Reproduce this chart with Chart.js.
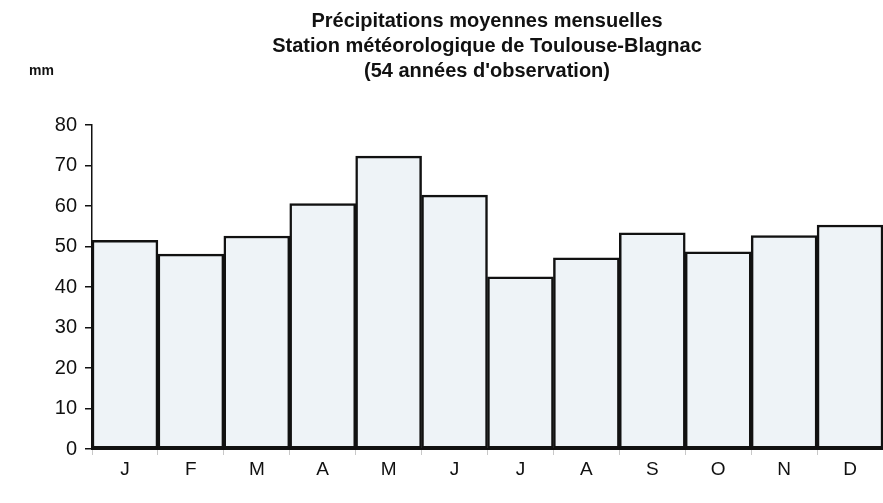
<!DOCTYPE html>
<html>
<head>
<meta charset="utf-8">
<script src="https://cdn.jsdelivr.net/npm/chart.js@4"></script>
<style>
  html, body { margin: 0; padding: 0; background: #fff; }
  #wrap { width: 883px; height: 503px; }
</style>
</head>
<body>
<div id="wrap"><canvas id="myChart"></canvas></div>
<script>
var months = ['J', 'F', 'M', 'A', 'M', 'J', 'J', 'A', 'S', 'O', 'N', 'D'];
var rainfall = [51.5, 48.1, 52.6, 60.6, 72.3, 62.7, 42.5, 47.2, 53.4, 48.7, 52.7, 55.3];
var titleLines = [
  'Précipitations moyennes mensuelles',
  'Station météorologique de Toulouse-Blagnac',
  "(54 années d'observation)"
];
var unitLabel = 'mm';

// titles drawn by hand so the plot area can sit where the original does
var headerText = {
  id: 'headerText',
  afterDraw: function(chart) {
    var c = chart.ctx;
    c.save();
    c.fillStyle = '#111';
    c.textAlign = 'center';
    c.textBaseline = 'middle';
    c.font = 'bold 20px "Liberation Sans", Arial, sans-serif';
    titleLines.forEach(function(t, i) {
      c.fillText(t, 487, 21 + i * 25);
    });
    c.textAlign = 'left';
    c.font = 'bold 14px "Liberation Sans", Arial, sans-serif';
    c.fillText(unitLabel, 29, 71);
    c.restore();
  }
};

var ctx = document.getElementById('myChart').getContext('2d');
var myChart = new Chart(ctx, {
  type: 'bar',
  data: {
    labels: months,
    datasets: [{
      data: rainfall,
      backgroundColor: '#eef3f7',
      borderColor: '#111',
      borderWidth: 2.5,
      borderSkipped: false,
      barPercentage: 1,
      categoryPercentage: 1
    }]
  },
  options: {
    responsive: true,
    maintainAspectRatio: false,
    animation: false,
    layout: { padding: { top: 125, right: 0, bottom: 0, left: 0 } },
    plugins: {
      legend: { display: false },
      title: { display: false },
      tooltip: { enabled: false }
    },
    scales: {
      x: {
        afterFit: function(s) { s.height = 54; },
        grid: { drawOnChartArea: false, drawTicks: true, tickLength: 6, color: '#c8c8c8', offset: true },
        border: { display: true, color: '#111', width: 2 },
        ticks: { color: '#111', padding: 3, font: { family: '"Liberation Sans", Arial, sans-serif', size: 19 } }
      },
      y: {
        min: 0,
        max: 80,
        afterFit: function(s) { s.width = 92; },
        grid: { drawOnChartArea: false, drawTicks: true, tickLength: 7, color: '#111', lineWidth: 1.5 },
        border: { display: true, color: '#111', width: 1.5 },
        ticks: { stepSize: 10, color: '#111', padding: 8, font: { family: '"Liberation Sans", Arial, sans-serif', size: 20 } }
      }
    }
  },
  plugins: [headerText]
});
</script>
</body>
</html>
